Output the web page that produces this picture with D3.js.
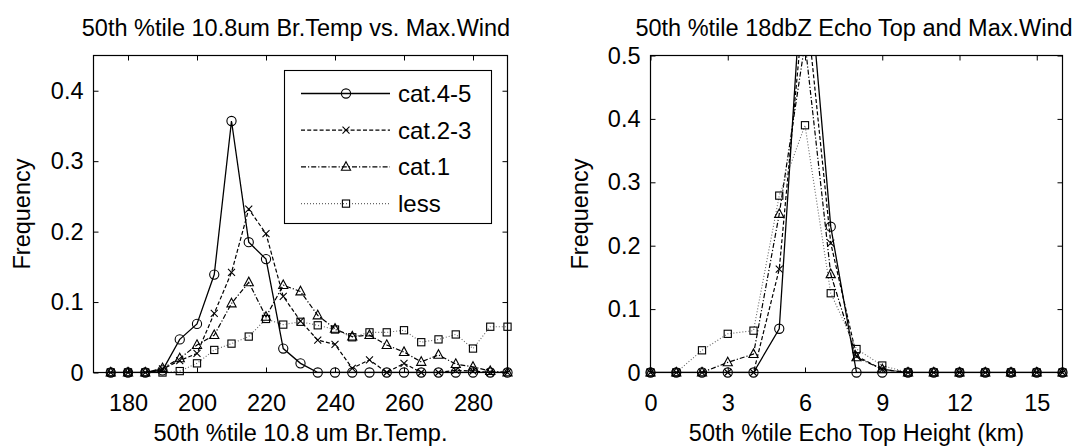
<!DOCTYPE html>
<html><head><meta charset="utf-8">
<script src="https://cdn.jsdelivr.net/npm/d3@7"></script>
<style>
body{margin:0;background:#fff;}
svg text{font-family:"Liberation Sans",Arial,Helvetica,sans-serif;fill:#000;}
</style></head><body>
<svg id="chart" width="1090" height="448"></svg>
<script>
// ---------- data ----------
const seriesNames = ["cat.4-5", "cat.2-3", "cat.1", "less"];

const tempBins = [175,180,185,190,195,200,205,210,215,220,225,230,235,240,245,250,255,260,265,270,275,280,285,290];
const tempCat45 = [0,0,0,0.003,0.047,0.069,0.139,0.357,0.185,0.161,0.034,0.013,0,0,0,0,0,0,0,0,0,0,0,0];
const tempCat23 = [0,0,0,0.005,0.017,0.027,0.084,0.142,0.232,0.197,0.108,0.073,0.046,0.040,0.006,0.018,0,0.013,0,0,0.003,0.002,0,0];
const tempCat1  = [0,0,0,0.006,0.020,0.039,0.053,0.098,0.128,0.079,0.124,0.115,0.081,0.062,0.051,0.053,0.039,0.029,0.015,0.025,0.012,0.008,0.002,0];
const tempLess  = [0,0,0,0,0.002,0.013,0.032,0.041,0.051,0.076,0.068,0.072,0.067,0.061,0.050,0.057,0.057,0.060,0.043,0.047,0.054,0.034,0.065,0.065];

const echoBins = [0,1,2,3,4,5,6,7,8,9,10,11,12,13,14,15,16];
const echoCat45 = [0,0,0,0,0,0.069,0.700,0.230,0,0,0,0,0,0,0,0,0];
const echoCat23 = [0,0,0,0,0,0.163,0.600,0.204,0.026,0.005,0,0,0,0,0,0,0];
const echoCat1  = [0,0,0,0.016,0.029,0.250,0.520,0.155,0.024,0.005,0,0,0,0,0,0,0];
const echoLess  = [0,0,0.035,0.061,0.066,0.279,0.390,0.125,0.037,0.011,0,0,0,0,0,0,0];

const leftTicksX = [180,200,220,240,260,280];
const leftTicksY = [0,0.1,0.2,0.3,0.4];
const rightTicksX = [0,3,6,9,12,15];
const rightTicksY = [0,0.1,0.2,0.3,0.4,0.5];

const leftTitle = "50th %tile 10.8um Br.Temp vs. Max.Wind";
const leftXLabel = "50th %tile 10.8 um Br.Temp.";
const rightTitle = "50th %tile 18dbZ Echo Top and Max.Wind";
const rightXLabel = "50th %tile Echo Top Height (km)";
const yLabel = "Frequency";

// ---------- styles ----------
const FS = 23.5;
const styles = [
  {dash: null, color: "#000", width: 1.3, marker: "circle"},
  {dash: "4,2.2", color: "#000", width: 1.2, marker: "x"},
  {dash: "5,2,1.2,2", color: "#000", width: 1.2, marker: "triangle"},
  {dash: "1,2", color: "#666", width: 1.1, marker: "square"}
];

const svg = d3.select("#chart");

function drawMarker(g, type, x, y) {
  const s = g.append("g").attr("transform", `translate(${x},${y})`)
    .attr("fill", "none").attr("stroke", "#000").attr("stroke-width", 1.1);
  if (type === "circle") s.append("circle").attr("r", 4.6);
  else if (type === "x") s.append("path").attr("d", "M-3.5,-3.5L3.5,3.5M-3.5,3.5L3.5,-3.5");
  else if (type === "triangle") s.append("path").attr("d", "M0,-5.2L4.6,3.4L-4.6,3.4Z");
  else if (type === "square") s.append("rect").attr("x", -3.6).attr("y", -3.6).attr("width", 7.2).attr("height", 7.2);
}

function drawPanel(cfg) {
  const {left, top, width, height, xDomain, yDomain, xTicks, yTicks, bins, series, title, xLabel, id, yLabelX, titleX} = cfg;
  const x = d3.scaleLinear().domain(xDomain).range([left, left + width]);
  const y = d3.scaleLinear().domain(yDomain).range([top + height, top]);
  const fmtY = d => d === 0 ? "0" : d3.format(".1f")(d);

  svg.append("clipPath").attr("id", "clip" + id)
    .append("rect").attr("x", left).attr("y", top).attr("width", width).attr("height", height);

  const gxb = svg.append("g").attr("transform", `translate(0,${top + height})`)
    .call(d3.axisBottom(x).tickValues(xTicks).tickSizeInner(-5).tickSizeOuter(0).tickPadding(22));
  const gxt = svg.append("g").attr("transform", `translate(0,${top})`)
    .call(d3.axisTop(x).tickValues(xTicks).tickSizeInner(-5).tickSizeOuter(0).tickFormat(""));
  const gyl = svg.append("g").attr("transform", `translate(${left},0)`)
    .call(d3.axisLeft(y).tickValues(yTicks).tickSizeInner(-5).tickSizeOuter(0).tickPadding(10).tickFormat(fmtY));
  const gyr = svg.append("g").attr("transform", `translate(${left + width},0)`)
    .call(d3.axisRight(y).tickValues(yTicks).tickSizeInner(-5).tickSizeOuter(0).tickFormat(""));
  [gxb, gxt, gyl, gyr].forEach(g => {
    g.select(".domain").remove();
    g.selectAll("line").attr("stroke", "#000").attr("stroke-width", 1);
    g.selectAll("text").attr("font-size", FS).attr("font-family", null).attr("fill", "#000");
  });

  const plot = svg.append("g");
  const lineGen = d3.line().x((d, i) => x(bins[i])).y(d => y(d));
  series.forEach((vals, si) => {
    const st = styles[si];
    plot.append("path").attr("clip-path", `url(#clip${id})`)
      .attr("d", lineGen(vals)).attr("fill", "none")
      .attr("stroke", st.color).attr("stroke-width", st.width)
      .attr("stroke-dasharray", st.dash);
  });
  series.forEach((vals, si) => {
    vals.forEach((v, i) => {
      if (v <= yDomain[1]) drawMarker(plot, styles[si].marker, x(bins[i]), y(v));
    });
  });

  svg.append("rect").attr("x", left).attr("y", top).attr("width", width).attr("height", height)
    .attr("fill", "none").attr("stroke", "#000").attr("stroke-width", 1.2);

  svg.append("text").attr("x", titleX).attr("y", 36).attr("text-anchor", "middle")
    .attr("font-size", FS).text(title);
  svg.append("text").attr("x", left + width / 2).attr("y", 441).attr("text-anchor", "middle")
    .attr("font-size", FS).text(xLabel);
  svg.append("text").attr("transform", `translate(${yLabelX},${top + height / 2}) rotate(-90)`)
    .attr("text-anchor", "middle").attr("font-size", FS).text(yLabel);
}

drawPanel({
  id: "L", left: 93.5, top: 55.5, width: 414, height: 317,
  xDomain: [170, 290], yDomain: [0, 0.45], xTicks: leftTicksX, yTicks: leftTicksY,
  bins: tempBins, series: [tempCat45, tempCat23, tempCat1, tempLess],
  title: leftTitle, xLabel: leftXLabel, yLabelX: 30, titleX: 296
});
drawPanel({
  id: "R", left: 650.5, top: 55.5, width: 412, height: 317,
  xDomain: [0, 16], yDomain: [0, 0.5], xTicks: rightTicksX, yTicks: rightTicksY,
  bins: echoBins, series: [echoCat45, echoCat23, echoCat1, echoLess],
  title: rightTitle, xLabel: rightXLabel, yLabelX: 588, titleX: 854
});

// legend
const lg = svg.append("g");
lg.append("rect").attr("x", 284.5).attr("y", 70.5).attr("width", 207).attr("height", 153)
  .attr("fill", "#fff").attr("stroke", "#000").attr("stroke-width", 1.1);
seriesNames.forEach((name, i) => {
  const cy = 93.5 + i * 36.7;
  const st = styles[i];
  lg.append("line").attr("x1", 301).attr("x2", 390).attr("y1", cy).attr("y2", cy)
    .attr("stroke", st.color).attr("stroke-width", st.width).attr("stroke-dasharray", st.dash);
  drawMarker(lg, st.marker, 346, cy);
  lg.append("text").attr("x", 398).attr("y", cy + 8.5).attr("font-size", 24).text(name);
});
</script>
</body></html>
